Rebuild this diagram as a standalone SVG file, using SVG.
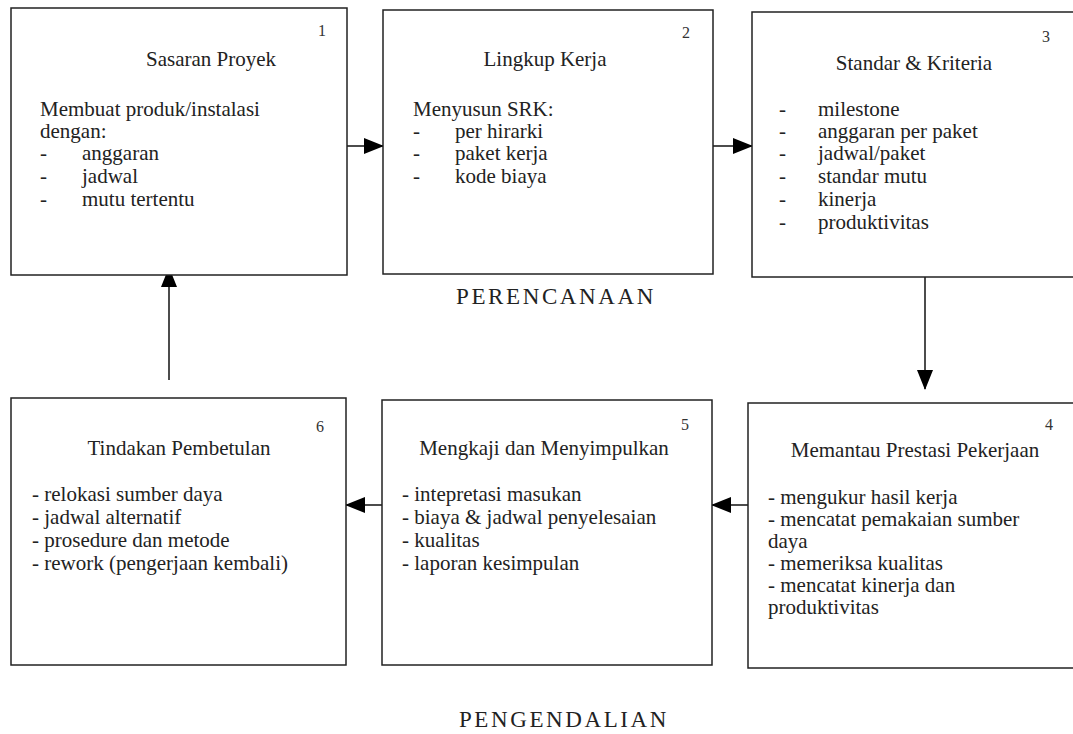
<svg xmlns="http://www.w3.org/2000/svg" width="1073" height="734" viewBox="0 0 1073 734">
  <style>
    .box { fill: #fff; stroke: #222; stroke-width: 1.5; }
    .t { font-family: "Liberation Serif", "Times New Roman", serif; font-size: 21px; fill: #222; }
    .c { text-anchor: middle; }
    .num { font-family: "Liberation Serif", "Times New Roman", serif; font-size: 16px; fill: #333; }
    .lbl { font-family: "Liberation Serif", "Times New Roman", serif; font-size: 23px; fill: #222; letter-spacing: 2.6px; text-anchor: middle; }
    .conn { stroke: #111; stroke-width: 1.5; fill: none; }
  </style>
  <defs>
    <marker id="ah" markerWidth="20" markerHeight="16" refX="19" refY="8" orient="auto" markerUnits="userSpaceOnUse">
      <path d="M0,0 L20,8 L0,16 Z" fill="#000"/>
    </marker>
  </defs>
  <rect width="1073" height="734" fill="#fff"/>

  <!-- connectors -->
  <g id="connectors">
    <line class="conn" x1="347" y1="146" x2="383" y2="146" marker-end="url(#ah)"/>
    <line class="conn" x1="713" y1="146" x2="752" y2="146" marker-end="url(#ah)"/>
    <line class="conn" x1="925" y1="277" x2="925" y2="389" marker-end="url(#ah)"/>
    <line class="conn" x1="748" y1="505" x2="712" y2="505" marker-end="url(#ah)"/>
    <line class="conn" x1="382" y1="505" x2="346" y2="505" marker-end="url(#ah)"/>
    <line class="conn" x1="169" y1="380" x2="169" y2="268" marker-end="url(#ah)"/>
  </g>

  <!-- 1: Sasaran Proyek -->
  <g id="node1">
    <rect class="box" x="11" y="8" width="336" height="267"/>
    <text class="num" x="318" y="36">1</text>
    <text class="t c" x="211" y="66">Sasaran Proyek</text>
    <text class="t" x="40" y="116">Membuat produk/instalasi</text>
    <text class="t" x="40" y="138">dengan:</text>
    <text class="t" x="40" y="160">-</text><text class="t" x="82" y="160">anggaran</text>
    <text class="t" x="40" y="183">-</text><text class="t" x="82" y="183">jadwal</text>
    <text class="t" x="40" y="206">-</text><text class="t" x="82" y="206">mutu tertentu</text>
  </g>

  <!-- 2: Lingkup Kerja -->
  <g id="node2">
    <rect class="box" x="383" y="10" width="330" height="264"/>
    <text class="num" x="682" y="38">2</text>
    <text class="t c" x="545" y="66">Lingkup Kerja</text>
    <text class="t" x="413" y="116">Menyusun SRK:</text>
    <text class="t" x="413" y="138">-</text><text class="t" x="455" y="138">per hirarki</text>
    <text class="t" x="413" y="160">-</text><text class="t" x="455" y="160">paket kerja</text>
    <text class="t" x="413" y="183">-</text><text class="t" x="455" y="183">kode biaya</text>
  </g>

  <!-- 3: Standar & Kriteria -->
  <g id="node3">
    <rect class="box" x="752" y="12" width="330" height="265"/>
    <text class="num" x="1042" y="42">3</text>
    <text class="t c" x="914" y="70">Standar &amp; Kriteria</text>
    <text class="t" x="779" y="116">-</text><text class="t" x="818" y="116">milestone</text>
    <text class="t" x="779" y="138">-</text><text class="t" x="818" y="138">anggaran per paket</text>
    <text class="t" x="779" y="160">-</text><text class="t" x="818" y="160">jadwal/paket</text>
    <text class="t" x="779" y="183">-</text><text class="t" x="818" y="183">standar mutu</text>
    <text class="t" x="779" y="206">-</text><text class="t" x="818" y="206">kinerja</text>
    <text class="t" x="779" y="229">-</text><text class="t" x="818" y="229">produktivitas</text>
  </g>

  <text class="lbl" x="556" y="304">PERENCANAAN</text>

  <!-- 4: Memantau Prestasi Pekerjaan -->
  <g id="node4">
    <rect class="box" x="748" y="403" width="334" height="265"/>
    <text class="num" x="1045" y="430">4</text>
    <text class="t c" x="915" y="457">Memantau Prestasi Pekerjaan</text>
    <text class="t" x="768" y="504">- mengukur hasil kerja</text>
    <text class="t" x="768" y="526">- mencatat pemakaian sumber</text>
    <text class="t" x="768" y="548">daya</text>
    <text class="t" x="768" y="570">- memeriksa kualitas</text>
    <text class="t" x="768" y="592">- mencatat kinerja dan</text>
    <text class="t" x="768" y="614">produktivitas</text>
  </g>

  <!-- 5: Mengkaji dan Menyimpulkan -->
  <g id="node5">
    <rect class="box" x="382" y="400" width="330" height="265"/>
    <text class="num" x="681" y="430">5</text>
    <text class="t c" x="544" y="455">Mengkaji dan Menyimpulkan</text>
    <text class="t" x="402" y="501">- intepretasi masukan</text>
    <text class="t" x="402" y="524">- biaya &amp; jadwal penyelesaian</text>
    <text class="t" x="402" y="547">- kualitas</text>
    <text class="t" x="402" y="570">- laporan kesimpulan</text>
  </g>

  <!-- 6: Tindakan Pembetulan -->
  <g id="node6">
    <rect class="box" x="11" y="398" width="335" height="267"/>
    <text class="num" x="316" y="432">6</text>
    <text class="t c" x="179" y="455">Tindakan Pembetulan</text>
    <text class="t" x="32" y="501">- relokasi sumber daya</text>
    <text class="t" x="32" y="524">- jadwal alternatif</text>
    <text class="t" x="32" y="547">- prosedure dan metode</text>
    <text class="t" x="32" y="570">- rework (pengerjaan kembali)</text>
  </g>

  <text class="lbl" x="564" y="727">PENGENDALIAN</text>
</svg>
